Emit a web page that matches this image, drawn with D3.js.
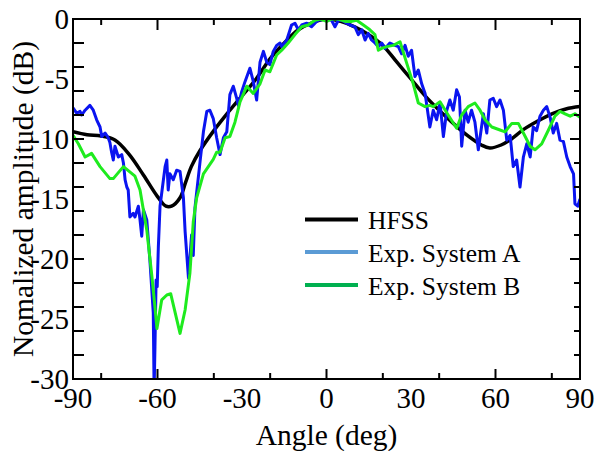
<!DOCTYPE html>
<html><head><meta charset="utf-8">
<script src="https://cdnjs.cloudflare.com/ajax/libs/d3/7.8.5/d3.min.js"></script>
<style>body{margin:0;background:#fff}svg{display:block}
text{font-family:"Liberation Serif","Times New Roman",Times,"DejaVu Serif",serif;}</style>
</head><body>
<svg id="c" width="596" height="451"></svg>
<script>
const xTicks = [-90,-60,-30,0,30,60,90];
const yTicks = [0,-5,-10,-15,-20,-25,-30];
const seriesNames = ["HFSS","Exp. System A","Exp. System B"];

const hfss = [[-90,-9.4],[-85,-9.65],[-80,-9.75],[-75,-10.1],[-70,-11.3],[-65,-13.0],[-60,-14.8],[-57,-15.6],[-55,-15.6],[-52,-14.9],[-50,-13.6],[-48,-12.3],[-45,-11.0],[-40,-9.3],[-35,-7.8],[-30,-6.4],[-25,-5.0],[-20,-3.3],[-15,-2.0],[-10,-0.9],[-5,-0.3],[0,0],[5,-0.2],[10,-0.65],[15,-1.3],[20,-2.2],[25,-3.6],[30,-5.0],[35,-6.4],[40,-7.6],[45,-8.7],[50,-9.7],[55,-10.5],[58,-10.75],[62,-10.5],[65,-10.1],[70,-9.2],[75,-8.5],[80,-7.9],[85,-7.5],[90,-7.3]];

const sysA = [[-90,-7.4],[-88.7,-7.85],[-87.5,-7.7],[-86.9,-8.0],[-85.7,-7.6],[-84,-7.2],[-82.8,-7.6],[-81.6,-8.4],[-80.4,-9.0],[-79.8,-9.8],[-78.6,-9.5],[-77.5,-9.9],[-76.9,-10.3],[-76.3,-11.1],[-75.7,-11.75],[-75.1,-10.6],[-73.9,-11.5],[-72.7,-11.3],[-72.1,-12.0],[-71.5,-13.4],[-70.9,-14.0],[-70.4,-14.25],[-69.8,-16.5],[-68.6,-16.2],[-68.0,-16.5],[-66.8,-15.6],[-66.2,-16.75],[-65.6,-18.1],[-65.0,-15.9],[-63.8,-16.75],[-62.7,-20.1],[-62.1,-22.3],[-61.5,-24.5],[-61.2,-31],[-60.9,-27.3],[-60.5,-21.75],[-60.1,-22.3],[-59.7,-19],[-59.1,-15.6],[-57.9,-13.4],[-57.3,-12.3],[-56.7,-11.75],[-56.2,-14.25],[-55.6,-12.9],[-54.4,-13.4],[-53.2,-12.6],[-52,-12.7],[-50.8,-14.9],[-50.2,-17.7],[-49,-21.6],[-47.9,-18],[-47.3,-19.7],[-46.7,-15.75],[-44.9,-11.9],[-43.7,-9.4],[-42.5,-7.7],[-41.4,-7.6],[-40.2,-8.3],[-39,-9.9],[-37.8,-11.3],[-36.6,-9.9],[-35.4,-9.4],[-34.3,-6.3],[-33.1,-5.6],[-31.9,-6.6],[-31.3,-7.2],[-30.1,-6.05],[-28.9,-5.2],[-27.2,-4.1],[-26,-5.2],[-24.8,-6.75],[-23.6,-3.6],[-22.4,-2.7],[-21.2,-3.6],[-20.1,-3.8],[-18.9,-2.7],[-17.7,-2.2],[-16.5,-2.0],[-15.9,-2.3],[-14.1,-1.75],[-12.4,-0.5],[-11.2,-0.35],[-10,-0.9],[-8.8,-0.5],[-7,-0.35],[-5.3,-0.65],[-4.1,-0.35],[-2.9,-0.1],[-0.5,0],[1.8,-0.1],[3.0,-0.65],[4.2,-0.1],[5.4,-0.1],[7.2,-0.35],[8.3,-0.5],[10.1,-0.65],[11.3,-1.3],[12.5,-0.9],[13.7,-1.75],[14.8,-1.2],[16,-1.75],[17.2,-2],[18.4,-2.3],[19.6,-2],[20.8,-2.45],[22.5,-2.0],[24.3,-2.2],[25.5,-2.3],[26.7,-2.9],[27.9,-2.2],[29,-3.1],[30.2,-2.6],[31.4,-4.8],[32.6,-4.25],[33.8,-5.4],[35,-6.2],[36.7,-9],[37.9,-7.6],[39.1,-8.4],[40.3,-7],[41.5,-9.8],[42.7,-7.6],[43.8,-6.75],[45,-7.6],[46.2,-5.9],[47.2,-6.5],[48,-10.6],[49.2,-7.6],[50.3,-8.6],[51.5,-7.6],[52.7,-8.6],[53.9,-10.9],[55.7,-7.9],[56.9,-9.5],[58,-6.75],[59.2,-6.6],[60.4,-7.3],[61.6,-6.75],[62.8,-7.6],[64,-10.1],[65.2,-9.7],[66.3,-12.3],[67.5,-11.75],[68.7,-14],[69.9,-11.5],[71.1,-10.4],[72.3,-11.5],[73.4,-9.0],[74.6,-9.3],[75.8,-8.1],[77,-7.6],[78.2,-7.3],[79.4,-8.2],[80.5,-9.5],[81.7,-8.7],[82.9,-10.1],[84.1,-10.2],[85.3,-11.5],[86.5,-12.3],[87.7,-12.9],[88.2,-15.4],[89.2,-15.6],[90,-15]];

const sysB = [[-90,-9.7],[-88.1,-10.4],[-85.7,-11.5],[-83.4,-11.2],[-80.4,-12.3],[-76.9,-13.3],[-75.7,-13.3],[-72.1,-12.3],[-68,-13.1],[-66.2,-14.25],[-63.8,-17.6],[-62.1,-21.2],[-60.9,-24],[-60.2,-25.8],[-58.5,-23.4],[-56.7,-23.0],[-55.3,-22.9],[-52,-26.2],[-50.2,-24.25],[-48.5,-21.2],[-47.3,-16.9],[-46.1,-14.9],[-43.7,-12.9],[-40.2,-11.7],[-39,-11.1],[-37.8,-11.1],[-36,-9.9],[-34.3,-9.8],[-32.5,-8.6],[-30.7,-6.9],[-28.3,-5.6],[-26,-6.2],[-23.6,-5.4],[-21.8,-4.25],[-20.1,-4.4],[-17.7,-3.0],[-15.9,-2.6],[-13.6,-2.0],[-11.2,-1.3],[-8.8,-0.65],[-6.5,-0.5],[-4.1,-0.1],[-2.3,0],[0.1,-0.2],[1.8,0],[4.2,0],[6.6,-0.2],[9.0,-0.2],[10.7,-0.1],[13.1,-0.5],[15.4,-0.9],[17.2,-1.3],[18.4,-2.6],[19.6,-2.45],[21.4,-2.3],[23.7,-2.2],[26.1,-1.9],[28.5,-3.7],[30.8,-5.4],[32.6,-7.0],[35,-7.3],[36.7,-7.2],[37.9,-7.3],[40.3,-6.9],[43.2,-8.0],[46.2,-9.1],[48,-8.0],[50.3,-7.3],[52.7,-7.0],[54.5,-7.6],[56.3,-8.4],[58.7,-9.0],[61.6,-9.25],[63.4,-9.4],[65.8,-8.7],[68.1,-8.7],[69.9,-9.5],[72.3,-10.6],[74,-10.9],[76.4,-10.4],[78.8,-9.25],[81.1,-8.1],[82.9,-7.7],[84.7,-7.9],[86.5,-8.1],[88.2,-7.9],[90,-8.2]];

const svg = d3.select("#c");
const L=73, R=580, T=19, B=379;
const x = d3.scaleLinear().domain([-90,90]).range([L,R]);
const y = d3.scaleLinear().domain([-30,0]).range([B,T]);

svg.append("defs").append("clipPath").attr("id","clip")
  .append("rect").attr("x",L).attr("y",T).attr("width",R-L).attr("height",B-T);

const g = svg.append("g").attr("clip-path","url(#clip)");
const smooth = d3.line().x(d=>x(d[0])).y(d=>y(d[1])).curve(d3.curveCatmullRom);
const lin = d3.line().x(d=>x(d[0])).y(d=>y(d[1]));
g.append("path").datum(hfss).attr("d", smooth).attr("fill","none").attr("stroke","#000").attr("stroke-width",3.5);
g.append("path").datum(sysA).attr("d", lin).attr("fill","none").attr("stroke","#0a14f0").attr("stroke-width",3).attr("stroke-linejoin","round");
g.append("path").datum(sysB).attr("d", lin).attr("fill","none").attr("stroke","#1eeb1e").attr("stroke-width",3).attr("stroke-linejoin","round");

// axes: ticks from scales
const xMinor = x.ticks(12), yMinor = y.ticks(12);
const ax = svg.append("g");
xMinor.forEach(v=>{
  const maj = v%30===0;
  if(v>-90 && v<90){
    ax.append("line").attr("x1",x(v)).attr("x2",x(v)).attr("y1",B).attr("y2",B-(maj?10:6)).attr("stroke","#000").attr("stroke-width",2);
    ax.append("line").attr("x1",x(v)).attr("x2",x(v)).attr("y1",T).attr("y2",T+(maj?11:6)).attr("stroke","#000").attr("stroke-width",2);
  }
});
yMinor.forEach(v=>{
  const maj = v%5===0;
  if(v>-30 && v<0){
    ax.append("line").attr("x1",L).attr("x2",L+11).attr("y1",y(v)).attr("y2",y(v)).attr("stroke","#000").attr("stroke-width",2);
    ax.append("line").attr("x1",R).attr("x2",R-(maj?10:6)).attr("y1",y(v)).attr("y2",y(v)).attr("stroke","#000").attr("stroke-width",2);
  }
});
ax.append("rect").attr("x",L).attr("y",T).attr("width",R-L).attr("height",B-T).attr("fill","none").attr("stroke","#000").attr("stroke-width",2);

// tick labels
svg.append("g").selectAll("text").data(xTicks).join("text")
  .attr("x",d=>x(d)).attr("y",408).attr("text-anchor","middle")
  .attr("font-size",29).text(d=>d);
svg.append("g").selectAll("text").data(yTicks).join("text")
  .attr("x",69).attr("y",d=>y(d)+9.5).attr("text-anchor","end")
  .attr("font-size",29).text(d=>d);

// titles
svg.append("text").attr("x",(L+R)/2).attr("y",445).attr("text-anchor","middle")
  .attr("font-size",29.5).text("Angle (deg)");
svg.append("text").attr("transform",`translate(33,${(T+B)/2}) rotate(-90)`).attr("text-anchor","middle")
  .attr("font-size",29.5).text("Nomalized amplitude (dB)");

// legend
const legColors = ["#000000","#5b9bd5","#00b050"];
const legY = [219.5,252,285];
const lg = svg.append("g");
seriesNames.forEach((n,i)=>{
  lg.append("line").attr("x1",305).attr("x2",358).attr("y1",legY[i]).attr("y2",legY[i]).attr("stroke",legColors[i]).attr("stroke-width",4);
  lg.append("text").attr("x",368).attr("y",legY[i]+9.5).attr("font-size",25.5).text(n);
});
</script>
</body></html>
